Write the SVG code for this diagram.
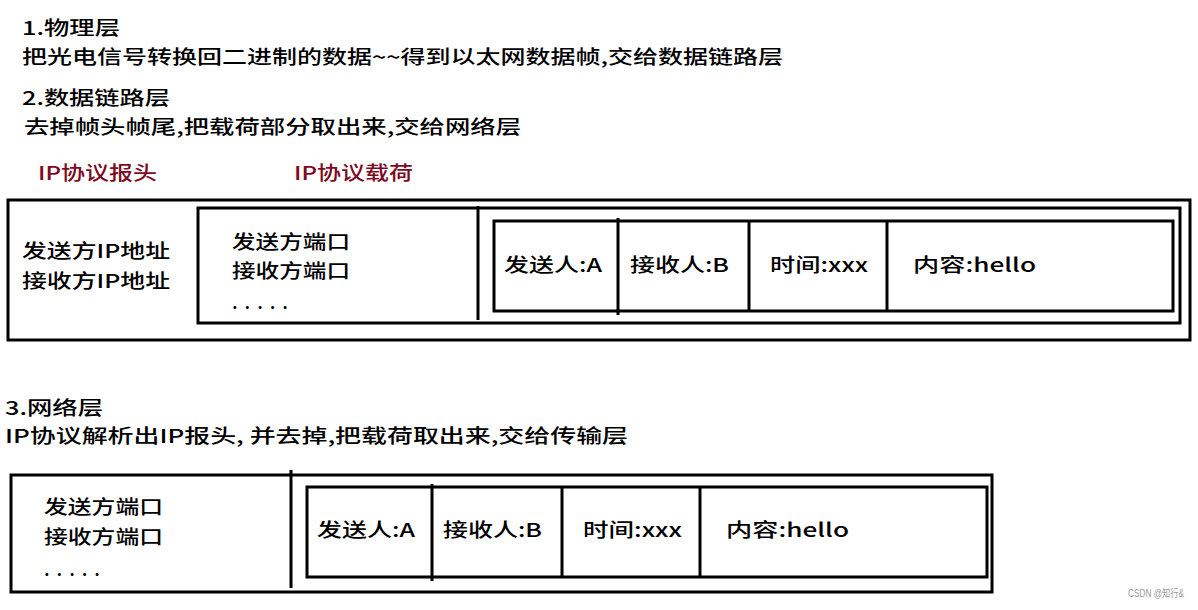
<svg xmlns="http://www.w3.org/2000/svg" width="1198" height="610" viewBox="0 0 1198 610">
<style>
text{font-family:"Noto Sans CJK SC","Liberation Sans",sans-serif;font-size:19px;fill:#000;font-weight:500}
.h{fill:#7d0a22;font-size:19px}
.box{fill:none;stroke:#000;stroke-width:3}
.ln{stroke:#000;stroke-width:3}
.wm{font-family:"Liberation Sans","Noto Sans CJK SC",sans-serif;font-size:10px;fill:#999;font-weight:400}
</style>
<rect width="1198" height="610" fill="#fff"/>
<g id="text-top">
<text x="22" y="35" textLength="98" lengthAdjust="spacingAndGlyphs">1.物理层</text>
<text x="22" y="64" textLength="761" lengthAdjust="spacingAndGlyphs">把光电信号转换回二进制的数据~~得到以太网数据帧,交给数据链路层</text>
<text x="22" y="105" textLength="148" lengthAdjust="spacingAndGlyphs">2.数据链路层</text>
<text x="24" y="134" textLength="497" lengthAdjust="spacingAndGlyphs">去掉帧头帧尾,把载荷部分取出来,交给网络层</text>
<text class="h" x="38" y="180" textLength="119" lengthAdjust="spacingAndGlyphs">IP协议报头</text>
<text class="h" x="294" y="180" textLength="119" lengthAdjust="spacingAndGlyphs">IP协议载荷</text>
</g>
<g id="packet-ip">
<rect class="box" x="8" y="200" width="1182" height="140"/>
<text x="22" y="258" textLength="148" lengthAdjust="spacingAndGlyphs">发送方IP地址</text>
<text x="22" y="288" textLength="148" lengthAdjust="spacingAndGlyphs">接收方IP地址</text>
</g>
<g id="udp-frame">
<rect class="box" x="198" y="208" width="982" height="115"/>
<text x="232" y="249" textLength="118" lengthAdjust="spacingAndGlyphs">发送方端口</text>
<text x="232" y="278" textLength="118" lengthAdjust="spacingAndGlyphs">接收方端口</text>
<text x="232" y="309" textLength="56" lengthAdjust="spacing">.....</text>
</g>
<g id="app-data-1">
<rect class="box" x="494" y="221" width="679" height="90"/>
<text x="504" y="272" textLength="98" lengthAdjust="spacingAndGlyphs">发送人:A</text>
<text x="630" y="272" textLength="99" lengthAdjust="spacingAndGlyphs">接收人:B</text>
<text x="770" y="272" textLength="98" lengthAdjust="spacingAndGlyphs">时间:xxx</text>
<text x="913" y="272" textLength="123" lengthAdjust="spacingAndGlyphs">内容:hello</text>
</g>
<g id="text-mid">
<text x="5" y="415" textLength="98" lengthAdjust="spacingAndGlyphs">3.网络层</text>
<text x="5" y="443" textLength="623" lengthAdjust="spacingAndGlyphs">IP协议解析出IP报头, 并去掉,把载荷取出来,交给传输层</text>
</g>
<g id="udp-packet">
<rect class="box" x="11" y="475" width="981" height="117"/>
<text x="44" y="514" textLength="119" lengthAdjust="spacingAndGlyphs">发送方端口</text>
<text x="44" y="544" textLength="119" lengthAdjust="spacingAndGlyphs">接收方端口</text>
<text x="44" y="576" textLength="56" lengthAdjust="spacing">.....</text>
</g>
<g id="app-data-2">
<rect class="box" x="307" y="487" width="680" height="90"/>
<text x="317" y="537" textLength="98" lengthAdjust="spacingAndGlyphs">发送人:A</text>
<text x="443" y="537" textLength="99" lengthAdjust="spacingAndGlyphs">接收人:B</text>
<text x="583" y="537" textLength="99" lengthAdjust="spacingAndGlyphs">时间:xxx</text>
<text x="726" y="537" textLength="123" lengthAdjust="spacingAndGlyphs">内容:hello</text>
</g>
<g id="connectors">
<line class="ln" x1="478" y1="206" x2="478" y2="320"/>
<line class="ln" x1="618" y1="218" x2="618" y2="315"/>
<line class="ln" x1="749" y1="221" x2="749" y2="311"/>
<line class="ln" x1="887" y1="221" x2="887" y2="311"/>
<line class="ln" x1="291" y1="470" x2="291" y2="588"/>
<line class="ln" x1="432" y1="484" x2="432" y2="581"/>
<line class="ln" x1="562" y1="487" x2="562" y2="577"/>
<line class="ln" x1="700" y1="487" x2="700" y2="577"/>
</g>
<text class="wm" x="1128" y="597" textLength="56" lengthAdjust="spacingAndGlyphs">CSDN @知行&amp;</text>
</svg>
